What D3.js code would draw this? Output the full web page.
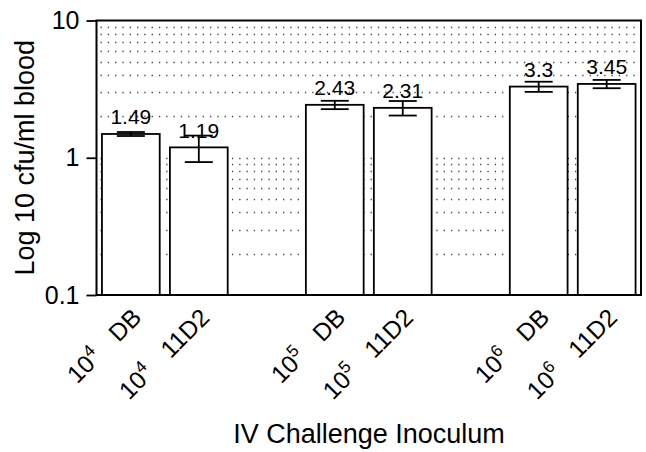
<!DOCTYPE html>
<html>
<head>
<meta charset="utf-8">
<script src="https://cdn.jsdelivr.net/npm/d3@7"></script>
<style>
  body { margin: 0; background: #fff; }
  svg { font-family: "Liberation Sans", Arial, Helvetica, sans-serif; }
</style>
</head>
<body>
<svg id="chart" width="646" height="452"></svg>
<script>
// data
const doses = ['4', '4', '5', '5', '6', '6']
const strains = ['DB', '11D2', 'DB', '11D2', 'DB', '11D2']
const values = [1.49, 1.19, 2.43, 2.31, 3.3, 3.45]
const errors = [0.05, 0.26, 0.17, 0.28, 0.28, 0.24]
const yTicks = [0.1, 1, 10]
const yTickLabels = ['0.1', '1', '10']

const width = 646,
  height = 452
const margin = { left: 96.5, right: 5, top: 20.5, bottom: 157 }

const svg = d3.select('#chart')

// 8 slots: two bars per dose, one empty slot between groups
const slotOf = i => i + Math.floor(i / 2)
const x = d3
  .scaleBand()
  .domain(d3.range(8))
  .range([margin.left, width - margin.right])
  .paddingInner(0.15)
  .paddingOuter(0.08)

const y = d3
  .scaleLog()
  .domain([0.1, 10])
  .range([height - margin.bottom, margin.top])

const x0 = margin.left,
  x1 = width - margin.right,
  yb = y(0.1),
  yt = y(10)

// dotted minor grid
const grid = []
;[0.1, 1].forEach(d => {
  for (let k = 2; k <= 9; k++) grid.push(d * k)
})
grid.push(1)
svg
  .append('g')
  .selectAll('line')
  .data(grid)
  .enter()
  .append('line')
  .attr('x1', x0 + 4)
  .attr('x2', x1 - 2)
  .attr('y1', d => Math.round(y(d)) + 0.5)
  .attr('y2', d => Math.round(y(d)) + 0.5)
  .attr('stroke', '#444')
  .attr('stroke-width', 1.3)
  .attr('stroke-dasharray', '1.3,6')

// bars
const bars = values.map((v, i) => ({ v, e: errors[i], i }))
svg
  .append('g')
  .selectAll('rect')
  .data(bars)
  .enter()
  .append('rect')
  .attr('x', d => x(slotOf(d.i)))
  .attr('width', x.bandwidth())
  .attr('y', d => y(d.v))
  .attr('height', d => yb - y(d.v))
  .attr('fill', '#fff')
  .attr('stroke', '#000')
  .attr('stroke-width', 1.8)

// error bars
const cx = d => x(slotOf(d.i)) + x.bandwidth() / 2
const eb = svg.append('g').attr('stroke', '#000').attr('stroke-width', 1.8)
bars.forEach(d => {
  const hi = y(d.v + d.e),
    lo = y(d.v - d.e),
    c = cx(d)
  eb.append('line').attr('x1', c).attr('x2', c).attr('y1', hi).attr('y2', lo)
  eb.append('line').attr('x1', c - 14).attr('x2', c + 14).attr('y1', hi).attr('y2', hi)
  eb.append('line').attr('x1', c - 14).attr('x2', c + 14).attr('y1', lo).attr('y2', lo)
})

// value labels
svg
  .append('g')
  .selectAll('text')
  .data(bars)
  .enter()
  .append('text')
  .attr('x', cx)
  .attr('y', d => y(d.v) - 9.5)
  .attr('text-anchor', 'middle')
  .attr('font-size', 21)
  .attr('fill', '#000')
  .text(d => d.v)

// frame: left axis, bottom, top, right
svg
  .append('path')
  .attr('d', `M${x0},${yt}H${x1}V${yb}H${x0}Z`)
  .attr('stroke', '#000')
  .attr('stroke-width', 2)
  .attr('fill', 'none')

// y axis ticks and labels
const yAxis = d3
  .axisLeft(y)
  .tickValues(yTicks)
  .tickSize(10)
  .tickPadding(7)
  .tickFormat((d, i) => yTickLabels[i])
svg
  .append('g')
  .attr('transform', `translate(${x0},0)`)
  .call(yAxis)
  .call(g => g.select('.domain').remove())
  .call(g => g.selectAll('line').attr('stroke', '#000').attr('stroke-width', 1.8))
  .call(g =>
    g
      .selectAll('text')
      .attr('font-size', 25)
      .attr('fill', '#000')
      .attr('font-family', '"Liberation Sans", Arial, sans-serif')
  )

// rotated category labels: 10^n  strain
const xl = svg.append('g')
bars.forEach(d => {
  const t = xl
    .append('text')
    .attr('transform', `translate(${cx(d) + 12},${yb + 24}) rotate(-45)`)
    .attr('text-anchor', 'end')
    .attr('font-size', 24.5)
    .attr('fill', '#000')
  t.append('tspan').text('10')
  t.append('tspan').attr('font-size', 17).attr('dy', -10).text(doses[d.i])
  t.append('tspan').attr('dy', 10).attr('dx', 22).text(strains[d.i])
})

// axis titles
svg
  .append('text')
  .attr('transform', `translate(34,${(yt + yb) / 2}) rotate(-90)`)
  .attr('text-anchor', 'middle')
  .attr('font-size', 27)
  .attr('fill', '#000')
  .text('Log 10 cfu/ml blood')

svg
  .append('text')
  .attr('x', 369)
  .attr('y', 443)
  .attr('text-anchor', 'middle')
  .attr('font-size', 27)
  .attr('fill', '#000')
  .text('IV Challenge Inoculum')
</script>
</body>
</html>
